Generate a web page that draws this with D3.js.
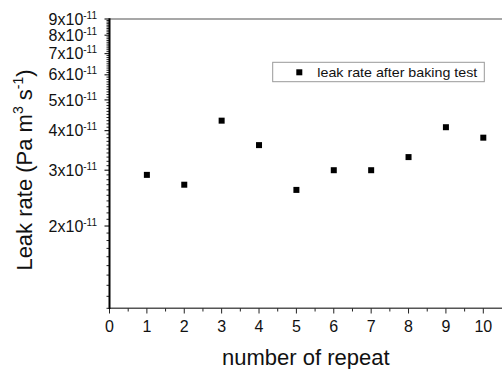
<!DOCTYPE html>
<html><head><meta charset="utf-8">
<script src="https://cdn.jsdelivr.net/npm/d3@7"></script>
<style>
html,body{margin:0;padding:0;background:#fff;}
svg{display:block;font-family:"Liberation Sans",Arial,sans-serif;}
</style></head>
<body>
<svg id="chart" width="502" height="369"></svg>
<script>
const repeats = [1,2,3,4,5,6,7,8,9,10];
const leakRates = [2.9e-11,2.7e-11,4.3e-11,3.6e-11,2.6e-11,3.0e-11,3.0e-11,3.3e-11,4.1e-11,3.8e-11];
const xTicks = [0,1,2,3,4,5,6,7,8,9,10];
const yTickMantissas = [2,3,4,5,6,7,8,9];
const yTickExponent = "-11";
const seriesName = "leak rate after baking test";

const svg = d3.select("#chart");
const x = d3.scaleLinear().domain([0,10]).range([109.5,483.3]);
const y = d3.scaleLog().domain([1.1e-11,9e-11]).range([308.3,19]);

// top frame line (gray)
svg.append("line").attr("x1",109.5).attr("x2",502).attr("y1",19).attr("y2",19)
  .attr("stroke","#8a8a8a").attr("stroke-width",1.5);

// bottom axis
const xAxis = svg.append("g");
xAxis.append("line").attr("x1",109.5).attr("x2",502).attr("y1",308.3).attr("y2",308.3)
  .attr("stroke","#555").attr("stroke-width",1.5);
const xMinor = d3.range(0.5,10,1);
xAxis.selectAll(".xmin").data(xMinor).join("line")
  .attr("x1",d=>x(d)).attr("x2",d=>x(d)).attr("y1",308.3).attr("y2",311.5)
  .attr("stroke","#222").attr("stroke-width",1);
xAxis.selectAll(".xmaj").data(xTicks).join("line")
  .attr("x1",d=>x(d)).attr("x2",d=>x(d)).attr("y1",308.3).attr("y2",313.5)
  .attr("stroke","#222").attr("stroke-width",1);
xAxis.selectAll(".xlab").data(xTicks).join("text")
  .attr("x",d=>x(d)).attr("y",331.7).attr("text-anchor","middle")
  .attr("font-size",16).attr("fill","#111").text(d=>d);

// left axis
const yAxis = svg.append("g");
const yMinor = [];
for (let m=11;m<90;m++){ if (m%10!==0) yMinor.push(m*1e-12); }
yAxis.selectAll(".ymin").data(yMinor).join("line")
  .attr("x1",106.5).attr("x2",109.5).attr("y1",d=>y(d)).attr("y2",d=>y(d))
  .attr("stroke","#222").attr("stroke-width",1);
yAxis.selectAll(".ymaj").data(yTickMantissas).join("line")
  .attr("x1",104.5).attr("x2",109.5).attr("y1",d=>y(d*1e-11)).attr("y2",d=>y(d*1e-11))
  .attr("stroke","#222").attr("stroke-width",1.2);
yAxis.append("line").attr("x1",109.5).attr("x2",109.5).attr("y1",18.3).attr("y2",309)
  .attr("stroke","#000").attr("stroke-width",2);
const ylab = yAxis.selectAll(".ylab").data(yTickMantissas).join("text")
  .attr("x",97).attr("y",d=>y(d*1e-11)+5.6).attr("text-anchor","end")
  .attr("font-size",16).attr("fill","#111");
ylab.append("tspan").text(d=>d+"x10");
ylab.append("tspan").attr("dy",-6).attr("font-size",10).text(yTickExponent);

// axis titles
svg.append("text").attr("x",305.8).attr("y",365).attr("text-anchor","middle")
  .attr("font-size",22).attr("fill","#111").text("number of repeat");
const yt = svg.append("text").attr("transform","translate(32,170) rotate(-90)")
  .attr("text-anchor","middle").attr("font-size",22).attr("fill","#111");
yt.append("tspan").text("Leak rate (Pa m");
yt.append("tspan").attr("dy",-9).attr("font-size",14).text("3");
yt.append("tspan").attr("dy",9).text(" s");
yt.append("tspan").attr("dy",-9).attr("font-size",14).text("-1");
yt.append("tspan").attr("dy",9).text(")");

// points
svg.selectAll(".pt").data(repeats).join("rect")
  .attr("x",(d,i)=>x(d)-3).attr("y",(d,i)=>y(leakRates[i])-3)
  .attr("width",6).attr("height",6).attr("fill","#000");

// legend
const lg = svg.append("g");
lg.append("rect").attr("x",272.7).attr("y",62.3).attr("width",211.6).attr("height",19.4)
  .attr("fill","#fff").attr("stroke","#999").attr("stroke-width",1);
lg.append("rect").attr("x",296.3).attr("y",69.3).attr("width",6).attr("height",6).attr("fill","#000");
lg.append("text").attr("x",317.3).attr("y",76.5).attr("font-size",13).attr("fill","#111")
  .attr("textLength",160).attr("lengthAdjust","spacingAndGlyphs").text(seriesName);
</script>
</body></html>
